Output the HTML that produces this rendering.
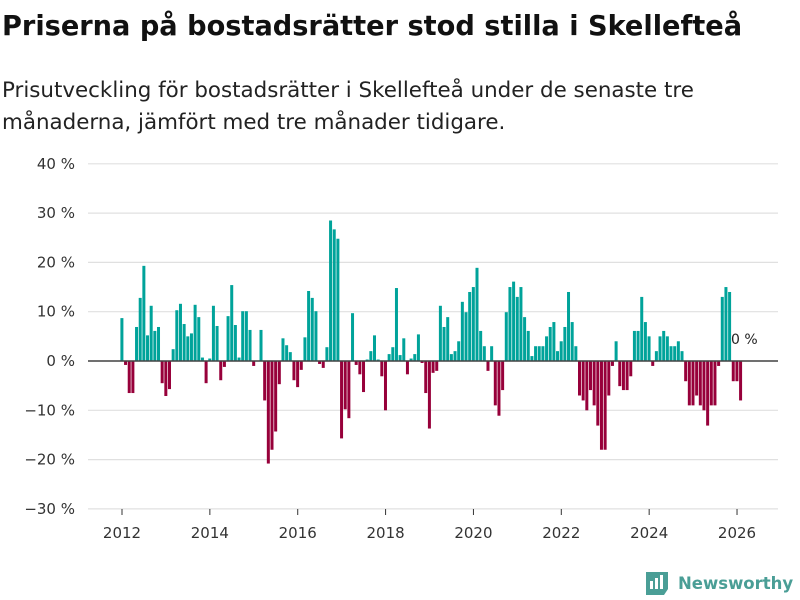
<!DOCTYPE html>
<html><head><meta charset="utf-8"><style>
body{margin:0;background:#fff;font-family:"Liberation Sans","DejaVu Sans",sans-serif}
#wrap{position:relative;width:800px;height:600px;overflow:hidden}
</style></head><body>
<div id="wrap">
<svg id="chart" width="800" height="600" font-family="DejaVu Sans, Liberation Sans, sans-serif">
<text x="2" y="35" font-size="27.2" font-weight="bold" fill="#111">Priserna på bostadsrätter stod stilla i Skellefteå</text>
<text x="2" y="97" font-size="21.4" fill="#222">Prisutveckling för bostadsrätter i Skellefteå under de senaste tre</text>
<text x="2" y="129" font-size="21.4" fill="#222">månaderna, jämfört med tre månader tidigare.</text>
<g id="grid"></g><g id="bars"></g><g id="xaxis"></g>
<text x="731" y="344" font-size="14" fill="#222">0 %</text>
<g>
<path d="M646 572 h22 v17 l-4 6 h-18 z" fill="#4a9e96"/>
<rect x="650" y="581" width="3" height="8" fill="#fff"/><rect x="655" y="578" width="3" height="11" fill="#fff"/><rect x="660" y="575" width="3" height="14" fill="#fff"/>
<text x="678" y="589" font-size="16.5" font-weight="bold" fill="#4a9e96">Newsworthy</text>
</g>
</svg>
</div>
<script>
const yTicks=[40,30,20,10,0,-10,-20,-30];
const xTickYears=[2012,2014,2016,2018,2020,2022,2024,2026];
const startYear=2012;
const values=[8.7,-0.8,-6.5,-6.5,6.9,12.8,19.3,5.2,11.2,6.1,6.9,-4.5,-7.1,-5.7,2.4,10.3,11.6,7.5,5.0,5.6,11.4,8.9,0.7,-4.5,0.5,11.2,7.1,-3.9,-1.2,9.1,15.4,7.3,0.7,10.1,10.1,6.3,-1.0,0,6.3,-8.0,-20.8,-18,-14.3,
-4.7,4.6,3.2,1.8,-3.9,-5.3,-1.8,4.8,14.2,12.8,10.1,-0.6,-1.4,2.8,28.5,26.7,24.8,-15.7,-9.8,-11.6,9.7,-0.8,-2.7,-6.3,0.3,2.0,5.2,0.3,-3.1,-10,1.4,2.8,14.8,1.2,4.6,-2.7,0.5,1.4,5.4,-0.4,-6.5,-13.7,
-2.4,-2.0,11.2,6.9,8.9,1.4,2.0,4.0,12.0,9.9,14.0,15.0,18.9,6.1,3.0,-2.0,3.0,-9.0,-11.1,-5.9,9.9,15.0,16.1,13.0,15.0,8.9,6.1,1.0,3.0,3.0,3.0,5.0,6.9,7.9,2.0,4.0,6.9,14.0,7.9,3.0,-7.0,-8.0,
-10.0,-5.9,-9.0,-13.1,-18.0,-18.0,-7.0,-1.0,4.0,-5.1,-5.9,-5.9,-3.1,6.1,6.1,13.0,7.9,5.0,-1.0,2.0,5.0,6.1,5.0,3.0,3.0,4.0,2.0,-4.1,-9.0,-9.0,-7.0,-9.0,-10.0,-13.1,-9.0,-9.0,-1.0,13.0,15.0,14.0,-4.1,-4.1,-8.0];
const NS="http://www.w3.org/2000/svg";
const y=v=>361-v*4.93;
const x=yr=>122+(yr-2012)*43.93;
const grid=document.getElementById('grid'),bars=document.getElementById('bars'),xa=document.getElementById('xaxis');
yTicks.forEach(t=>{
 const l=document.createElementNS(NS,'line');
 l.setAttribute('x1',88);l.setAttribute('x2',778);l.setAttribute('y1',y(t));l.setAttribute('y2',y(t));
 l.setAttribute('stroke','#e0e0e0');l.setAttribute('stroke-width',1.2);
 
 
 grid.appendChild(l);
 const tx=document.createElementNS(NS,'text');
 tx.setAttribute('x',75);tx.setAttribute('y',y(t)+5);tx.setAttribute('text-anchor','end');tx.setAttribute('font-size',15);tx.setAttribute('fill','#333');
 tx.textContent=(t<0?'−':'')+Math.abs(t)+' %';
 
 
 grid.appendChild(tx);
});
values.forEach((v,i)=>{
 const cx=x(startYear+i/12);
 const r=document.createElementNS(NS,'rect');
 r.setAttribute('x',cx-1.6);r.setAttribute('width',3.0);
 r.setAttribute('y',Math.min(y(v),y(0)));r.setAttribute('height',Math.abs(y(v)-y(0)));
 r.setAttribute('fill',v>=0?'#00a39a':'#97003a');
 
 
 bars.appendChild(r);
});
const z=document.createElementNS(NS,'line');
z.setAttribute('x1',88);z.setAttribute('x2',778);z.setAttribute('y1',y(0));z.setAttribute('y2',y(0));z.setAttribute('stroke','#444');z.setAttribute('stroke-width',1.5);


bars.appendChild(z);
xTickYears.forEach(yr=>{
 const l=document.createElementNS(NS,'line');
 l.setAttribute('x1',x(yr));l.setAttribute('x2',x(yr));l.setAttribute('y1',509);l.setAttribute('y2',515);l.setAttribute('stroke','#333');
 
 
 xa.appendChild(l);
 const tx=document.createElementNS(NS,'text');
 tx.setAttribute('x',x(yr));tx.setAttribute('y',538);tx.setAttribute('text-anchor','middle');tx.setAttribute('font-size',15);tx.setAttribute('fill','#333');
 tx.textContent=yr;
 
 
 xa.appendChild(tx);
});
</script>
</body></html>
